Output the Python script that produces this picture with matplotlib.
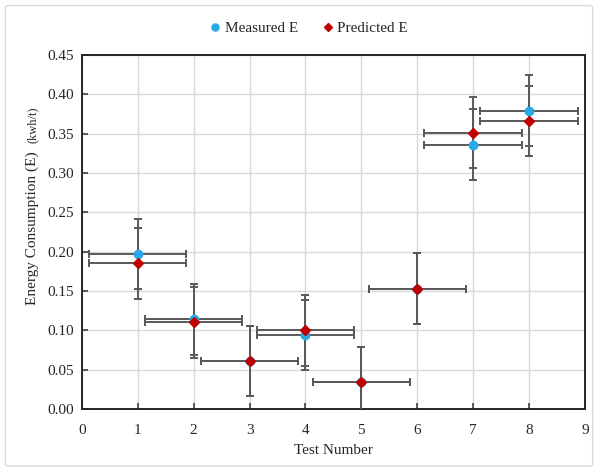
import matplotlib
matplotlib.use("Agg")
import matplotlib.pyplot as plt
from matplotlib.patches import FancyBboxPatch

plt.rcParams['font.family'] = ['Liberation Serif', 'DejaVu Serif']

test_number = [1, 2, 3, 4, 5, 6, 7, 8]
measured_e = [0.197, 0.114, 0.061, 0.094, 0.034, 0.153, 0.336, 0.379]
predicted_e = [0.185, 0.110, 0.061, 0.100, 0.034, 0.153, 0.351, 0.366]
y_err = [0.045] * 8
x_err = [0.87] * 8
x_ticks = list(range(0, 10))
y_ticks = [0.00, 0.05, 0.10, 0.15, 0.20, 0.25, 0.30, 0.35, 0.40, 0.45]

fig = plt.figure(figsize=(5.98, 4.69), dpi=100)
ax = fig.add_axes([0.137, 0.128, 0.841, 0.755])

# figure border
border = FancyBboxPatch((0.009, 0.006), 0.982, 0.982, boxstyle="round,pad=0,rounding_size=0.005",
                        transform=fig.transFigure, fill=False, edgecolor='#D9D9D9', lw=1.0)
fig.patches.append(border)

ebc = '#595959'
ax.errorbar(test_number, measured_e, xerr=x_err, yerr=y_err, fmt='none', ecolor=ebc,
            elinewidth=1.4, capsize=3, capthick=1.4, zorder=3)
ax.errorbar(test_number, predicted_e, xerr=x_err, yerr=y_err, fmt='none', ecolor=ebc,
            elinewidth=1.4, capsize=3, capthick=1.4, zorder=3)
ax.plot(test_number, measured_e, 'o', color='#29A8E8', markersize=6, linestyle='none',
        label='Measured E', zorder=4)
ax.plot(test_number, predicted_e, 'D', color='#C00000', markersize=4.6, linestyle='none',
        label='Predicted E', zorder=5)

ax.set_xlim(0, 9)
ax.set_ylim(0, 0.45)
ax.set_xticks(x_ticks)
ax.set_yticks(y_ticks)
ax.set_yticklabels([f"{v:.2f}" for v in y_ticks])
ax.tick_params(direction='in', length=4, width=1.2, colors='#404040', labelsize=11,
               labelcolor='#262626', pad=6)
ax.tick_params(axis='x', pad=11)
ax.grid(True, color='#D9D9D9', lw=1.0, zorder=0)
ax.set_axisbelow(True)
for s in ax.spines.values():
    s.set_color('#262626')
    s.set_linewidth(1.4)

ax.set_xlabel('Test Number', fontsize=11, color='#262626', labelpad=5)
fig.text(0.054, 0.514, 'Energy Consumption (E)', rotation=90, ha='center', va='center',
         fontsize=11, color='#262626')
fig.text(0.054, 0.733, '(kwh/t)', rotation=90, ha='center', va='center',
         fontsize=9, color='#262626')

leg = fig.legend(loc='center', bbox_to_anchor=(0.515, 0.94), ncol=2, frameon=False,
                 fontsize=11, handletextpad=0.1, columnspacing=1.5, handlelength=1.0,
                 markerscale=0.85)
for t in leg.get_texts():
    t.set_color('#262626')

fig.savefig('out.png', dpi=100)
